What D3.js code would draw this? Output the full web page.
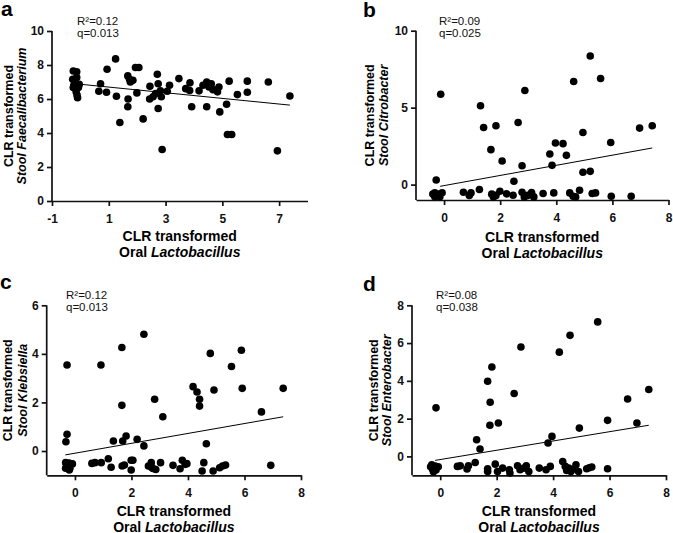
<!DOCTYPE html>
<html lang="en">
<head>
<meta charset="UTF-8">
<script src="https://d3js.org/d3.v7.min.js"></script>
<style>
    body { margin: 0; background: #fff; }
    svg { font-family: "Liberation Sans", Arial, sans-serif; }
    .tick text { font-family: "Liberation Sans", Arial, sans-serif; font-size: 12px; font-weight: bold; fill: #111; }
    .domain, .tick line { stroke: #111; stroke-width: 1.7px; }
</style>
</head>
<body>
<svg id="chart" width="673" height="533"></svg>
<script>
// oral Lactobacillus (x) vs stool genus (y)
const pointsA = [
    [-0.25,7.65],[-0.13,7.6],[-0.27,7.16],[-0.13,7.27],[-0.25,6.67],[-0.07,6.67],[-0.15,6.43],
    [-0.19,6.98],[-0.1,6.08],[-0.23,6.82],[-0.04,6.86],[-0.12,6.24],
    [0.65,6.46],[0.71,6.9],[0.94,7.75],[0.92,6.4],[1.24,8.36],[1.27,6.16],[1.39,4.62],
    [1.67,7.36],[1.73,7.16],[1.76,7.0],[1.85,7.1],[1.68,6.0],[1.67,5.54],[1.94,7.85],
    [2.06,7.85],[1.99,6.36],[2.21,4.83],[2.45,6.75],[2.44,6.0],[2.56,6.13],[2.71,7.46],
    [2.74,6.9],[2.74,5.44],[2.65,6.32],[2.82,6.48],[2.85,6.13],[2.88,3.03],[3.06,6.46],
    [3.14,6.81],[3.47,7.2],[3.71,6.61],[3.85,6.5],[3.86,6.95],[3.92,5.54],[4.18,6.48],
    [4.32,6.81],[4.45,7.0],[4.45,5.54],[4.53,6.71],[4.61,6.9],[4.67,6.55],[4.83,6.42],
    [4.88,6.71],[4.91,5.24],[5.15,5.69],[5.24,7.05],[5.18,3.91],[5.33,3.91],[5.53,6.26],
    [5.88,7.05],[5.88,6.4],[6.62,7.0],[6.94,2.95],[7.38,6.18]
];
const pointsB = [
    [-0.33,-0.53],[-0.19,-0.61],[-0.07,-0.53],[-0.33,-0.79],[-0.15,-0.79],[-0.4,-0.61],
    [-0.28,0.3],[-0.12,5.87],
    [0.69,-0.5],[0.96,-0.54],[0.9,-0.7],[1.26,-0.32],[1.3,5.12],[1.41,3.71],[1.67,2.27],
    [1.85,3.82],[2.07,1.53],[1.7,-0.62],[1.76,-0.8],[1.85,-0.7],[1.99,-0.43],[2.23,-0.6],
    [2.46,-0.69],[2.49,0.22],[2.64,4.04],[2.78,1.23],[2.88,6.11],[2.78,-0.5],[2.86,-0.8],
    [2.98,-0.7],[3.12,-0.52],[3.2,-0.8],[3.53,-0.58],[3.77,1.99],[3.85,1.25],[3.91,-0.54],
    [3.97,2.7],[4.24,2.66],[4.36,1.9],[4.48,-0.54],[4.6,-0.76],[4.69,-0.8],[4.62,6.7],
    [4.83,-0.37],[4.95,3.39],[4.95,0.8],[5.21,8.36],[5.21,0.86],[5.28,-0.58],[5.4,-0.54],
    [5.58,6.89],[5.94,2.74],[5.96,-0.76],[6.67,-0.76],[6.97,3.67],[7.42,3.82]
];
const pointsC = [
    [-0.28,3.54],[-0.28,0.69],[-0.32,0.38],
    [-0.33,-0.48],[-0.21,-0.5],[-0.09,-0.53],[-0.27,-0.65],[-0.18,-0.71],[-0.33,-0.71],[-0.2,-0.78],
    [0.6,-0.51],[0.71,-0.48],[0.93,-0.48],[0.92,3.54],[1.18,-0.32],[1.28,-0.67],[1.36,0.41],
    [1.67,-0.62],[1.66,4.26],[1.66,1.88],[1.69,0.41],[1.81,0.62],[1.75,-0.58],[1.99,-0.38],
    [2.05,-0.38],[1.99,-0.78],[2.2,0.48],[2.44,0.21],[2.44,4.81],[2.6,-0.62],[2.7,-0.48],
    [2.76,-0.72],[2.86,-0.76],[2.72,-0.68],[2.82,2.13],[3.03,-0.48],[3.11,1.41],[3.47,-0.59],
    [3.72,-0.73],[3.8,-0.38],[3.9,-0.55],[3.96,-0.52],[4.18,2.65],[4.32,2.43],[4.41,2.13],
    [4.41,1.85],[4.5,-0.82],[4.56,-0.48],[4.65,0.3],[4.79,4.02],[4.89,-0.82],[4.92,2.51],
    [5.12,-0.69],[5.22,-0.62],[5.33,-0.58],[5.54,3.48],[5.89,4.15],[5.92,2.58],[6.6,1.61],
    [6.93,-0.59],[7.37,2.58]
];
const pointsD = [
    [-0.15,2.57],
    [-0.3,-0.45],[-0.18,-0.51],[-0.07,-0.55],[-0.27,-0.68],[-0.15,-0.72],[-0.24,-0.81],[-0.34,-0.55],
    [0.61,-0.53],[0.71,-0.5],[0.95,-0.67],[1.0,-0.5],[1.24,-0.32],[1.29,0.88],[1.41,0.39],
    [1.68,3.98],[1.68,-0.65],[1.68,-0.8],[1.77,2.87],[1.76,1.65],[1.83,4.73],[1.95,-0.41],
    [2.03,-0.8],[2.06,1.77],[2.21,-0.62],[2.45,-0.71],[2.47,-0.88],[2.62,3.33],[2.74,-0.5],
    [2.83,-0.71],[2.97,-0.62],[3.05,-0.5],[3.14,-0.8],[2.86,5.79],[3.51,-0.62],[3.75,-0.71],
    [3.82,0.71],[3.9,-0.53],[3.96,1.06],[4.22,5.52],[4.34,-0.27],[4.43,-0.53],[4.48,-0.74],
    [4.55,-0.62],[4.63,-0.8],[4.69,-0.68],[4.6,6.41],[4.81,-0.44],[4.93,1.5],[4.9,-0.8],
    [5.19,-0.65],[5.28,-0.6],[5.37,-0.56],[5.58,7.12],[5.93,1.91],[5.93,-0.65],[6.64,3.04],
    [6.97,1.77],[7.39,3.54]
];

// regression line end points
const fitA = [[-0.2, 6.9], [7.38, 5.64]];
const fitB = [[-0.14, -0.11], [7.42, 2.38]];
const fitC = [[-0.34, -0.16], [7.37, 1.41]];
const fitD = [[-0.18, -0.21], [7.39, 1.65]];

const statsA = ["R²=0.12", "q=0.013"];
const statsB = ["R²=0.09", "q=0.025"];
const statsC = ["R²=0.12", "q=0.013"];
const statsD = ["R²=0.08", "q=0.038"];

const genera = ["Faecalibacterium", "Citrobacter", "Klebsiella", "Enterobacter"];
const xTicksA = [-1, 1, 3, 5, 7];
const xTicksOther = [0, 2, 4, 6, 8];
const yTicksA = [0, 2, 4, 6, 8, 10];
const yTicksB = [0, 5, 10];
const yTicksC = [0, 2, 4, 6];
const yTicksD = [0, 2, 4, 6, 8];

const svg = d3.select("#chart");

const panels = [
    { tag: "a", pts: pointsA, fit: fitA, stats: statsA, genus: genera[0],
      xr: [52, 307.5], yr: [201, 31], yd: [0, 10], xt: xTicksA, yt: yTicksA,
      tagPos: [1, 16], statX: 77, statY: 24.5, yl: [13, 26], xl: [241, 257] },
    { tag: "b", pts: pointsB, fit: fitB, stats: statsB, genus: genera[1],
      xr: [416, 668.5], yr: [200, 30.7], yd: [-1, 10], xt: xTicksOther, yt: yTicksB,
      tagPos: [363, 17], statX: 439, statY: 24.5, yl: [374, 388], xl: [242, 258] },
    { tag: "c", pts: pointsC, fit: fitC, stats: statsC, genus: genera[2],
      xr: [46.7, 301], yr: [475.3, 305.3], yd: [-1, 6], xt: xTicksOther, yt: yTicksC,
      tagPos: [0, 289], statX: 66, statY: 298.5, yl: [12, 27], xl: [516, 531.5] },
    { tag: "d", pts: pointsD, fit: fitD, stats: statsD, genus: genera[3],
      xr: [412, 666], yr: [475.3, 305.3], yd: [-1, 8], xt: xTicksOther, yt: yTicksD,
      tagPos: [363, 291], statX: 436, statY: 298.5, yl: [378, 391], xl: [516, 531.5] }
];

panels.forEach(p => {
    const x = d3.scaleLinear().domain([-1, 8]).range(p.xr);
    const y = d3.scaleLinear().domain(p.yd).range(p.yr);
    const g = svg.append("g");

    // axes
    g.append("g")
        .attr("transform", `translate(0,${p.yr[0]})`)
        .call(d3.axisBottom(x).tickValues(p.xt).tickSize(5).tickPadding(8)
            .tickSizeOuter(0).tickFormat(d => String(d)));
    const yAxis = g.append("g")
        .attr("transform", `translate(${p.xr[0]},0)`)
        .call(d3.axisLeft(y).tickValues(p.yt).tickSize(5).tickPadding(3)
            .tickSizeOuter(0).tickFormat(d => String(d)));
    // y axis line runs from the top tick down to the x axis
    yAxis.select(".domain").attr("d", `M0,${y(p.yt[p.yt.length - 1])}V${p.yr[0]}`);
    g.selectAll(".tick text")
        .attr("font-family", "Liberation Sans, Arial, sans-serif")
        .attr("font-weight", "bold").attr("font-size", 12).attr("fill", "#111");

    // dots
    g.append("g").selectAll("circle")
        .data(p.pts)
        .join("circle")
        .attr("cx", d => x(d[0]))
        .attr("cy", d => y(d[1]))
        .attr("r", 3.8)
        .attr("fill", "#000");

    // regression line
    g.append("line")
        .attr("x1", x(p.fit[0][0])).attr("y1", y(p.fit[0][1]))
        .attr("x2", x(p.fit[1][0])).attr("y2", y(p.fit[1][1]))
        .attr("stroke", "#000").attr("stroke-width", 1);

    // panel tag
    g.append("text")
        .attr("x", p.tagPos[0]).attr("y", p.tagPos[1])
        .attr("font-size", 21).attr("font-weight", "bold")
        .text(p.tag);

    // stats
    g.selectAll("text.stat")
        .data(p.stats)
        .join("text")
        .attr("class", "stat")
        .attr("x", p.statX).attr("y", (d, i) => p.statY + i * 12.5)
        .attr("font-size", 11.5).attr("fill", "#111")
        .text(d => d);

    // x title
    const xc = (p.xr[0] + p.xr[1]) / 2;
    g.append("text")
        .attr("x", xc).attr("y", p.xl[0])
        .attr("text-anchor", "middle").attr("font-size", 14).attr("font-weight", "bold")
        .text("CLR transformed");
    const xt2 = g.append("text")
        .attr("x", xc).attr("y", p.xl[1])
        .attr("text-anchor", "middle").attr("font-size", 14).attr("font-weight", "bold");
    xt2.append("tspan").text("Oral ");
    xt2.append("tspan").attr("font-style", "italic").text("Lactobacillus");

    // y title
    const yc = (y(p.yt[p.yt.length - 1]) + p.yr[0]) / 2;
    g.append("text")
        .attr("transform", `translate(${p.yl[0]},${yc}) rotate(-90)`)
        .attr("text-anchor", "middle").attr("font-size", 12.5).attr("font-weight", "bold")
        .text("CLR transformed");
    g.append("text")
        .attr("transform", `translate(${p.yl[1]},${yc}) rotate(-90)`)
        .attr("text-anchor", "middle").attr("font-size", 12.5).attr("font-weight", "bold")
        .attr("font-style", "italic")
        .text("Stool " + p.genus);
});
</script>
</body>
</html>
